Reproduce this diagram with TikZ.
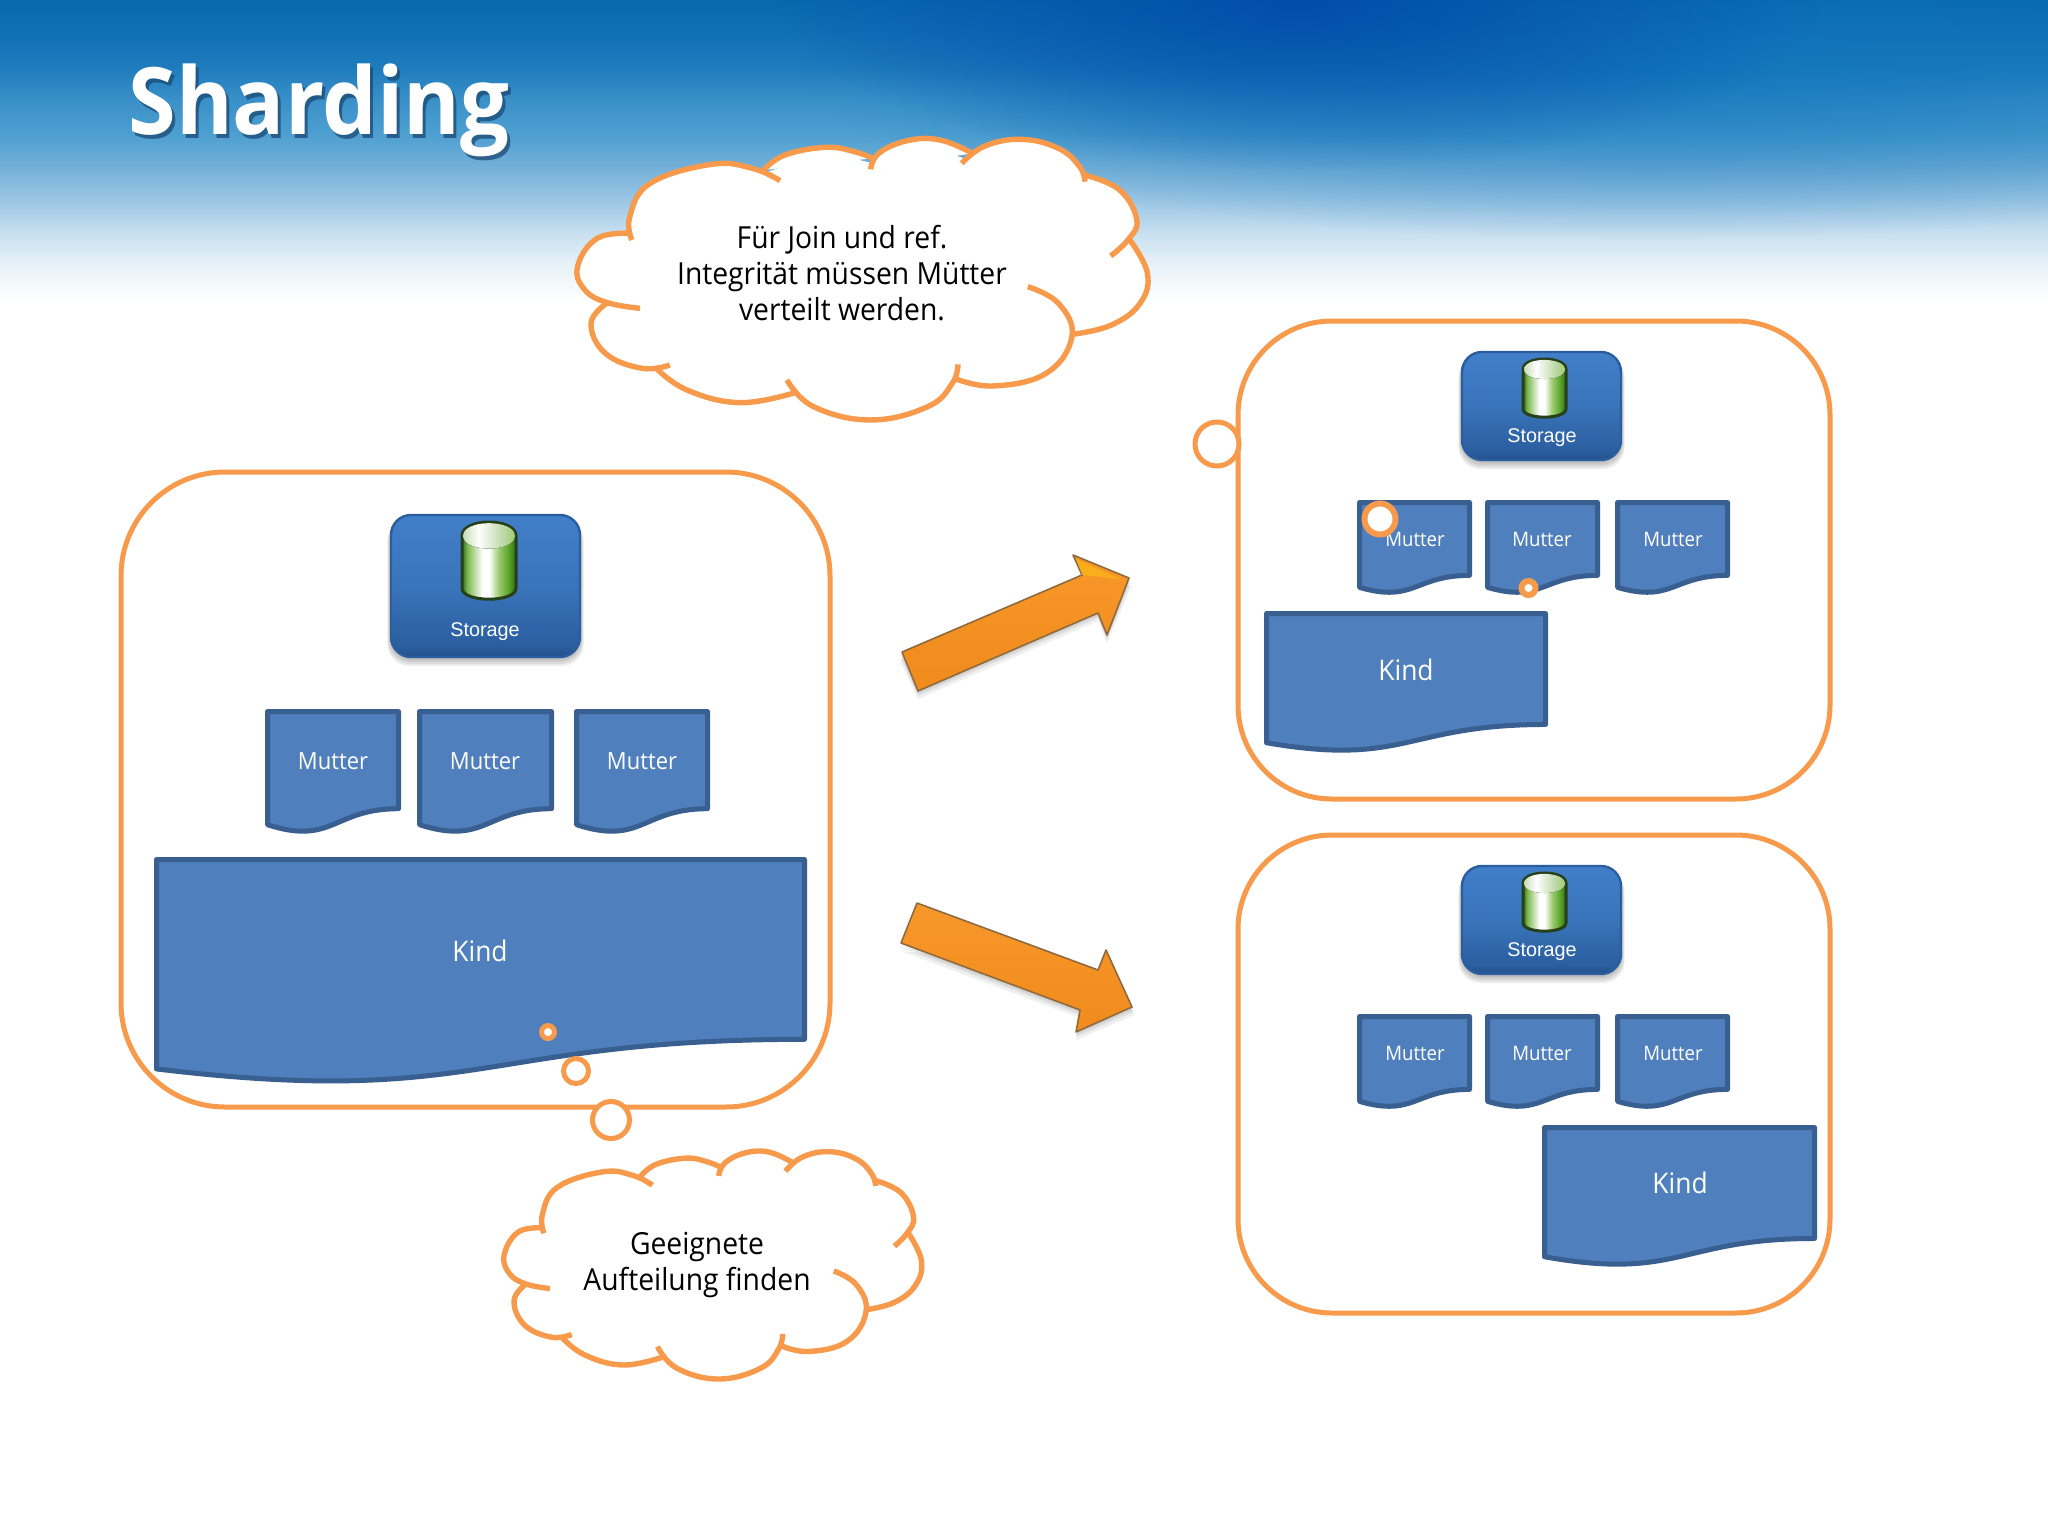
\documentclass[tikz,border=0pt]{standalone}
\usepackage{fontspec}
\setmainfont[FakeStretch=.93]{Open Sans}
\newfontfamily\arialf{Liberation Sans}
\usetikzlibrary{fadings,shadings}
\definecolor{ora}{HTML}{F79A4B}
\definecolor{docfill}{HTML}{4F7FBC}
\definecolor{docline}{HTML}{385F8F}
\definecolor{bnA}{HTML}{E8F2F8}
\definecolor{bnB}{HTML}{C8E0F0}
\definecolor{bnC}{HTML}{9CC6E4}
\definecolor{bnD}{HTML}{74B0D8}
\definecolor{bnE}{HTML}{4C9FD0}
\definecolor{bnF}{HTML}{3A90C8}
\definecolor{bnG}{HTML}{1F7CBC}
\definecolor{bnH}{HTML}{1270B6}
\definecolor{bnI}{HTML}{0868AE}
\definecolor{bnDark}{HTML}{0048A8}
\definecolor{bnRight}{HTML}{0F74BC}
\pgfdeclareverticalshading{bannersh}{100bp}{
 color(0bp)=(white);
 color(30.9bp)=(white);
 color(36bp)=(bnA);
 color(40.7bp)=(bnB);
 color(45.6bp)=(bnC);
 color(50.4bp)=(bnD);
 color(55.4bp)=(bnE);
 color(60.3bp)=(bnF);
 color(65bp)=(bnG);
 color(70bp)=(bnH);
 color(75bp)=(bnI);
 color(100bp)=(bnI)}
\definecolor{cyA}{HTML}{2E6A18}
\definecolor{cyB}{HTML}{7FB850}
\definecolor{cyC}{HTML}{9ECB72}
\definecolor{cyD}{HTML}{5AA528}
\definecolor{cyEdge}{HTML}{26401A}
\definecolor{capL}{HTML}{C6DDB4}
\definecolor{stA}{HTML}{417FC9}
\definecolor{stB}{HTML}{3A74BA}
\definecolor{stC}{HTML}{2A5E9F}
\definecolor{stD}{HTML}{234F8A}
\definecolor{arA}{HTML}{F8982A}
\definecolor{arB}{HTML}{F08A1C}
\definecolor{arL}{HTML}{8F6A3C}
\definecolor{shT}{HTML}{1B4A75}
\pgfdeclarehorizontalshading{cylsh}{100bp}{
 color(0bp)=(cyA); color(25bp)=(cyA); color(30bp)=(cyB); color(44bp)=(white); color(50bp)=(white);
 color(59bp)=(cyC); color(68bp)=(cyD); color(75bp)=(cyA); color(100bp)=(cyA)}
\pgfdeclarehorizontalshading{capsh}{100bp}{
 color(0bp)=(capL); color(25bp)=(capL); color(40bp)=(white); color(60bp)=(capL); color(75bp)=(cyC); color(100bp)=(cyC)}
\pgfdeclareverticalshading{storesh}{100bp}{
 color(0bp)=(stD); color(25bp)=(stD); color(29bp)=(stC); color(50bp)=(stB); color(75bp)=(stA); color(100bp)=(stA)}
\tikzfading[name=softblob, inner color=transparent!0, outer color=transparent!100]
\tikzset{
 x=.5pt,y=-.5pt,
 framebox/.style={draw=ora,line width=2.5pt,fill=white,rounded corners=52pt},
 smallframe/.style={framebox,rounded corners=47pt},
 docshape/.style={draw=docline,fill=docfill,line width=2.5pt,line join=round},
 bubble/.style={draw=ora,fill=white,line width=2.5pt},
 cloudline/.style={draw=ora,line width=2.7pt,line cap=butt},
 whitetxt/.style={text=white,inner sep=0pt,anchor=base},
 mutterbig/.style={whitetxt,font=\fontsize{11.8}{14}\selectfont},
 muttersmall/.style={whitetxt,font=\fontsize{10}{12}\selectfont},
 kindtxt/.style={whitetxt,font=\fontsize{14.2}{17}\selectfont},
 storetxt/.style={whitetxt,font=\arialf\fontsize{9.9}{12}\selectfont},
 cloudtxt/.style={text=black,inner sep=0pt,align=center,font=\fontsize{15.2}{18}\selectfont},
 titletxt/.style={inner sep=0pt,anchor=base west,font=\bfseries\fontsize{46.5}{50}\selectfont},
 bigarrow/.style={draw=arL,line width=.8pt,line join=round,top color=arA,bottom color=arB},
}
\newcommand{\docpath}[4]{%
 \begin{scope}[shift={(#1+2.5,#2+2.5)},xscale=#3-5,yscale=(#4-4)*1.01]
 \draw[docshape] (0,0) -- (1,0) -- (1,.802) .. controls (.5,.802) and (.5,1.108) .. (0,.934) -- cycle;
 \end{scope}}
\newcommand{\storebox}[4]{%
 \foreach \d in {9,7,5,3}{\fill[black,opacity=.07,rounded corners=11pt] (#1-\d*.4,#2+4) rectangle (#1+#3+\d*.4,#2+#4+\d);}
 \draw[stC,line width=1.2pt,shading=storesh,rounded corners=10pt] (#1,#2) rectangle (#1+#3,#2+#4);}
\newcommand{\cylinder}[4]{%
 \draw[cyEdge,line width=1.5pt,shading=cylsh] (#1,#2+.18*#4) -- (#1,#2+.86*#4) .. controls (#1,#2+1.05*#4) and (#1+#3,#2+1.05*#4) .. (#1+#3,#2+.86*#4) -- (#1+#3,#2+.18*#4) .. controls (#1+#3,#2-.06*#4) and (#1,#2-.06*#4) .. (#1,#2+.18*#4) -- cycle;
 \fill[shading=capsh] (#1+1,#2+.18*#4) .. controls (#1+1,#2-.04*#4) and (#1+#3-1,#2-.04*#4) .. (#1+#3-1,#2+.18*#4) .. controls (#1+#3-1,#2+.40*#4) and (#1+1,#2+.40*#4) .. (#1+1,#2+.18*#4) -- cycle;}
\newcommand{\cloudlobes}{%
 \fill[white] (225,350) -- (300,215) -- (420,145) -- (560,155) -- (700,95) -- (815,130) -- (920,72) -- (1040,115) -- (1180,70) -- (1330,172) -- (1450,300) -- (1440,370) -- (1480,500) -- (1300,640) -- (1240,750) -- (1020,790) -- (800,890) -- (620,810) -- (400,830) -- (250,730) -- (130,640) -- (165,548) -- (100,430) -- (140,360) -- cycle;
 \fill[white] plot[smooth,tension=.7] coordinates {(1445,360) (1488,460) (1470,550) (1400,615) (1305,643)};
 \fill[white] plot[smooth,tension=.7] coordinates {(1335,165) (1420,210) (1462,300) (1440,360) (1398,408)};
 \fill[white] plot[smooth,tension=.7] coordinates {(1033,130) (1090,78) (1180,58) (1270,85) (1322,140) (1335,185)};
 \fill[white] plot[smooth,tension=.7] coordinates {(810,148) (830,100) (900,62) (980,60) (1060,100)};
 \fill[white] plot[smooth,tension=.7] coordinates {(548,150) (600,105) (700,82) (770,95) (815,115)};
 \fill[white] plot[smooth,tension=.7] coordinates {(225,360) (220,290) (270,190) (420,133) (520,145) (588,182)};
 \fill[white] plot[smooth,tension=.7] coordinates {(225,340) (140,355) (92,440) (110,510) (165,548) (245,565)};
 \fill[white] plot[smooth,tension=.7] coordinates {(165,548) (125,610) (160,700) (250,745) (318,735)};
 \fill[white] plot[smooth,tension=.7] coordinates {(282,742) (360,810) (490,848) (625,818)};
 \fill[white] plot[smooth,tension=.7] coordinates {(605,780) (670,860) (810,900) (950,860) (1010,790) (1024,733)};
 \fill[white] plot[smooth,tension=.7] coordinates {(1195,500) (1270,550) (1303,650) (1240,760) (1110,798) (1015,775)};
 \draw[cloudline] plot[smooth,tension=.7] coordinates {(1445,360) (1488,460) (1470,550) (1400,615) (1305,643)};
 \draw[cloudline] plot[smooth,tension=.7] coordinates {(1335,165) (1420,210) (1462,300) (1440,360) (1398,408)};
 \draw[cloudline] plot[smooth,tension=.7] coordinates {(1033,130) (1090,78) (1180,58) (1270,85) (1322,140) (1335,185)};
 \draw[cloudline] plot[smooth,tension=.7] coordinates {(810,148) (830,100) (900,62) (980,60) (1060,100)};
 \draw[cloudline] plot[smooth,tension=.7] coordinates {(548,150) (600,105) (700,82) (770,95) (815,115)};
 \draw[cloudline] plot[smooth,tension=.7] coordinates {(225,360) (220,290) (270,190) (420,133) (520,145) (588,182)};
 \draw[cloudline] plot[smooth,tension=.7] coordinates {(225,340) (140,355) (92,440) (110,510) (165,548) (245,565)};
 \draw[cloudline] plot[smooth,tension=.7] coordinates {(165,548) (125,610) (160,700) (250,745) (318,735)};
 \draw[cloudline] plot[smooth,tension=.7] coordinates {(282,742) (360,810) (490,848) (625,818)};
 \draw[cloudline] plot[smooth,tension=.7] coordinates {(605,780) (670,860) (810,900) (950,860) (1010,790) (1024,733)};
 \draw[cloudline] plot[smooth,tension=.7] coordinates {(1195,500) (1270,550) (1303,650) (1240,760) (1110,798) (1015,775)};
}
\begin{document}
\begin{tikzpicture}
\useasboundingbox (0,0) rectangle (2048,1536);
\fill[white] (0,0) rectangle (2048,1536);
% banner
\shade[shading=bannersh] (0,0) rectangle (2048,340);
\fill[bnRight,opacity=.7,path fading=softblob] (1650,70) ellipse [x radius=850,y radius=170];
\fill[bnDark,opacity=.85,path fading=softblob] (1300,0) ellipse [x radius=520,y radius=170];
% title
\node[titletxt,text=shT,opacity=.75] (titleshadow) at (128+3,134+4) {Sharding};
\node[titletxt,text=white] (title) at (128,134) {Sharding};
% frames
\draw[framebox] (121,472) rectangle (830,1107);
\draw[smallframe] (1238,321) rectangle (1830,799);
\draw[smallframe] (1238,835) rectangle (1830,1313);
% left group
\storebox{391}{515}{189}{142}
\cylinder{462}{522}{54}{77}
\node[storetxt] (storageL) at (485,636) {Storage};
\docpath{265}{709}{136}{124}
\docpath{417}{709}{137}{124}
\docpath{574}{709}{136}{124}
\node[mutterbig] (mL1) at (333,769) {Mutter};
\node[mutterbig] (mL2) at (485,769) {Mutter};
\node[mutterbig] (mL3) at (642,769) {Mutter};
\docpath{154}{857}{653}{226}
\node[kindtxt] (kindL) at (480,961) {Kind};
% right top group
\storebox{1462}{352}{159}{108}
\cylinder{1523}{359}{43}{58}
\node[storetxt] (storageT) at (1542,442) {Storage};
\docpath{1357}{500}{115}{94}
\docpath{1485}{500}{115}{94}
\docpath{1615}{500}{115}{94}
\node[muttersmall] (mT1) at (1415,546) {Mutter};
\node[muttersmall] (mT2) at (1542,546) {Mutter};
\node[muttersmall] (mT3) at (1673,546) {Mutter};
\docpath{1264}{611}{284}{141}
\node[kindtxt] (kindT) at (1406,680) {Kind};
% right bottom group
\storebox{1462}{866}{159}{108}
\cylinder{1523}{873}{43}{58}
\node[storetxt] (storageB) at (1542,956) {Storage};
\docpath{1357}{1014}{115}{94}
\docpath{1485}{1014}{115}{94}
\docpath{1615}{1014}{115}{94}
\node[muttersmall] (mB1) at (1415,1060) {Mutter};
\node[muttersmall] (mB2) at (1542,1060) {Mutter};
\node[muttersmall] (mB3) at (1673,1060) {Mutter};
\docpath{1542}{1125}{275}{141}
\node[kindtxt] (kindB) at (1680,1193) {Kind};
% arrows
\foreach \d in {8,5,3}{\fill[black,opacity=.06] (902-\d*.3,652+\d) -- (918,691+\d) -- (1098,613+\d) -- (1107,635+\d) -- (1129+\d*.3,578+\d) -- (1082,575) -- cycle;}
\draw[bigarrow] (902,652) -- (918,691) -- (1098,613) -- (1107,635) -- (1129,578) -- (1073,555) -- (1082,575) -- cycle;
\fill[yellow!70!orange,opacity=.4] (1082,575) -- (1076,559) -- (1120,579) -- cycle;
\foreach \d in {8,5,3}{\fill[black,opacity=.06] (901,943+\d) -- (1080,1010+\d) -- (1076,1032+\d) -- (1132+\d*.3,1007+\d) -- (1106,950) -- (1098,970) -- cycle;}
\draw[bigarrow] (917,903) -- (901,943) -- (1080,1010) -- (1076,1032) -- (1132,1007) -- (1106,950) -- (1098,970) -- cycle;
% clouds
\begin{scope}[shift={(540,120)},xscale=.4082,yscale=.3333]
\cloudlobes
\end{scope}
\node[cloudtxt] (cloudA) at (842,273) {Für Join und ref.\\Integrität müssen Mütter\\verteilt werden.};
\begin{scope}[shift={(476.7,1136)},xscale=.2988,yscale=.27]
\cloudlobes
\end{scope}
\node[cloudtxt] (cloudB) at (697,1265) {Geeignete\\Aufteilung finden};
% thought bubbles
\draw[bubble] (548,1032) circle [radius=6.5];
\draw[bubble] (576,1071) circle [radius=12.5];
\draw[bubble] (611,1120) circle [radius=18.5];
\draw[bubble] (1217,444) circle [radius=22];
\draw[bubble,line width=3pt] (1380,519) circle [radius=15.5];
\draw[bubble,line width=3pt] (1528.5,588) circle [radius=7];
\end{tikzpicture}
\end{document}
